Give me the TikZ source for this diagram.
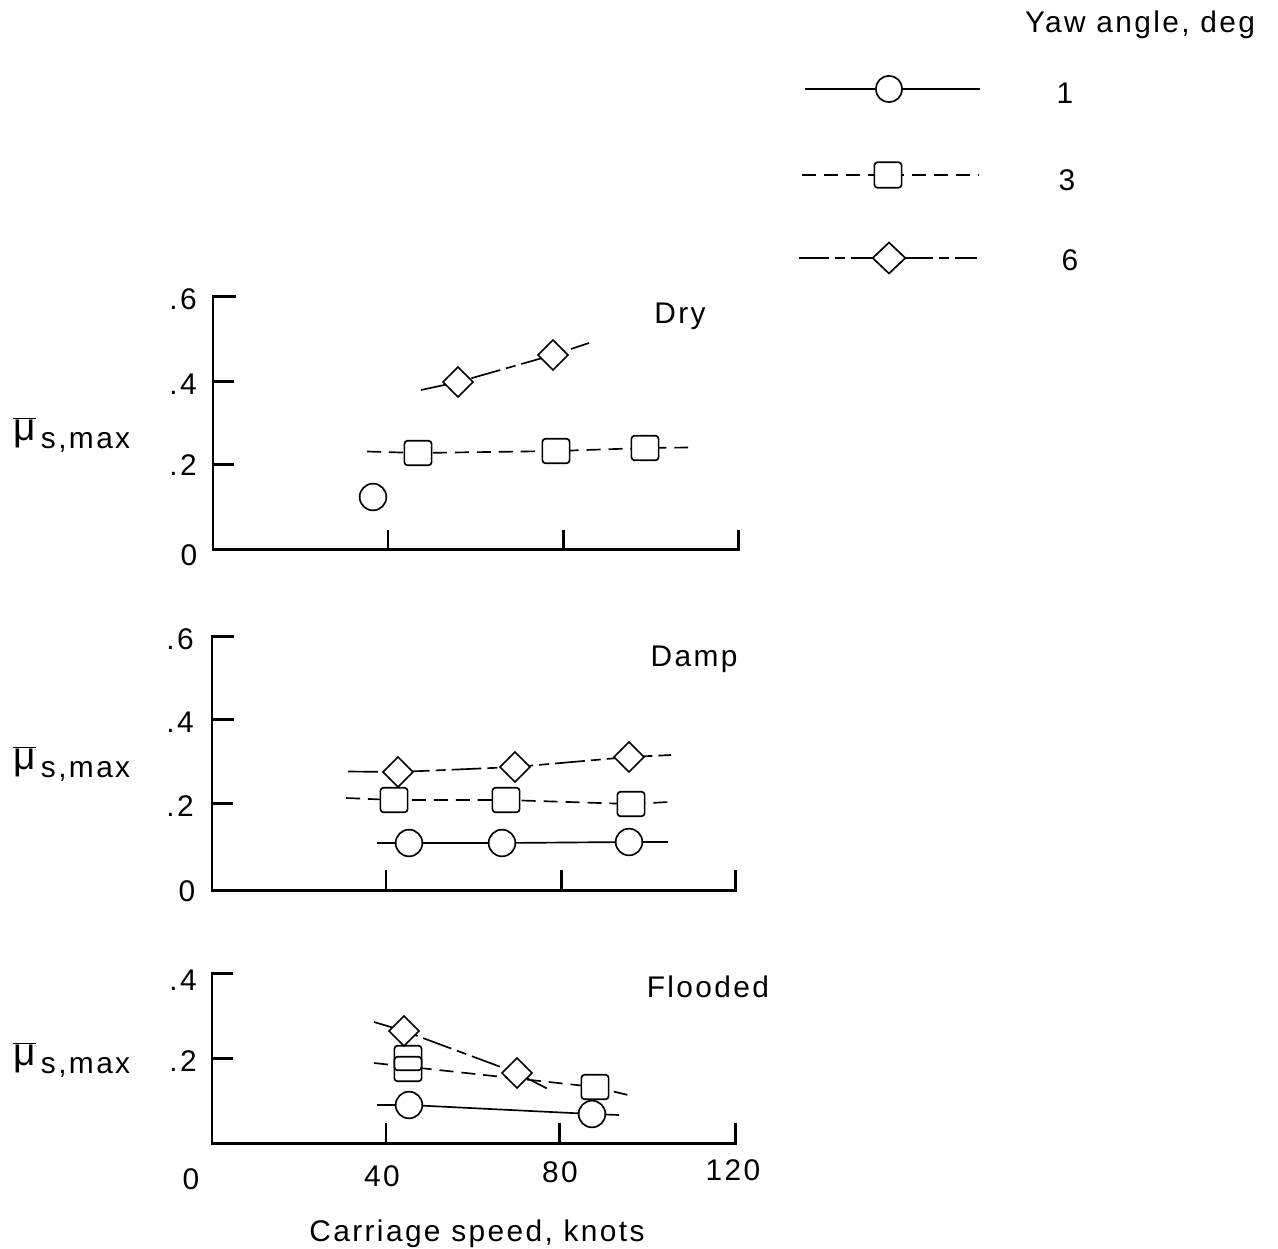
\documentclass[tikz,border=0pt]{standalone}
\usepackage{fontspec}
\setmainfont[LetterSpace=8]{Liberation Sans}
\usetikzlibrary{shapes.geometric,backgrounds}
\tikzset{
  axisline/.style={line width=1.7pt, line cap=rect},
  dataline/.style={line width=0.95pt},
  dashline/.style={dataline, dash pattern=on 8pt off 4.5pt},
  dashdotline/.style={dataline, dash pattern=on 17pt off 3.4pt on 5.7pt off 3.4pt},
  mk/.style={draw, fill=white, line width=0.95pt, inner sep=0pt},
  circmark/.style={mk, circle, minimum size=15.2pt},
  sqmark/.style={mk, rectangle, rounded corners=1.8pt, minimum width=15.5pt, minimum height=14pt},
  diamark/.style={mk, diamond, minimum width=17.5pt, minimum height=17.5pt},
  lgcirc/.style={circmark, minimum size=15pt},
  lgsq/.style={sqmark, minimum width=15.5pt, minimum height=14.5pt},
  lgdia/.style={diamark, minimum width=19pt, minimum height=18pt},
  txt/.style={inner sep=0pt, anchor=base},
  mulabel/.style={inner sep=0pt, anchor=base west}
}
\newcommand{\mylbl}{\raisebox{4pt}{$\overline{\hbox{\scalebox{1.3}{μ}}}$}\hspace{3pt}s,max}
\begin{document}
\begin{tikzpicture}[x=0.02cm, y=-0.02cm, font=\fontsize{17}{20}\selectfont]
\useasboundingbox (0,0) rectangle (1278,1248);

% ---------------- Legend ----------------
\node[txt] (lgtitle) at (1140,32) {Yaw angle, deg};
\node[lgcirc] (lg1) at (889,89) {};
\node[lgsq] (lg3) at (888,175) {};
\node[lgdia] (lg6) at (889,258) {};
\coordinate (lg1a) at (805,89);  \coordinate (lg1b) at (980,89);
\coordinate (lg3a) at (802,175); \coordinate (lg3b) at (978,175);
\coordinate (lg6a) at (799,258); \coordinate (lg6b) at (977,258);
\node[txt] (lgt1) at (1065,103) {1};
\node[txt] (lgt3) at (1067,190) {3};
\node[txt] (lgt6) at (1070,270) {6};

% ---------------- Dry panel ----------------
\coordinate (dtop) at (213,296); \coordinate (dorg) at (213,549); \coordinate (dend) at (738,549);
\draw[axisline] (dtop) -- (dorg) -- (dend);
\draw[axisline] (dtop) -- ++(22,0);
\draw[axisline] (213,381) -- ++(20,0);
\draw[axisline] (213,464) -- ++(20,0);
\draw[axisline] (388,549) -- ++(0,-18);
\draw[axisline] (563,549) -- ++(0,-18);
\draw[axisline] (dend) -- ++(0,-18);
\node[txt] (dy6) at (183,309) {.6};
\node[txt] (dy4) at (183,394) {.4};
\node[txt] (dy2) at (183,475) {.2};
\node[txt] (dy0) at (189,565) {0};
\node[txt] (dtitle) at (680,323) {Dry};
\node[mulabel] (dmu) at (13,448) {\mylbl};

\node[circmark] (dC1) at (373,497) {};
\node[sqmark] (dS1) at (418,453) {};
\node[sqmark] (dS2) at (556,451) {};
\node[sqmark] (dS3) at (645,448) {};
\coordinate (dSa) at (367,451.5); \coordinate (dSb) at (688,447.5);
\node[diamark] (dD1) at (458,382) {};
\node[diamark] (dD2) at (553,355) {};
\coordinate (dDa) at (421,390); \coordinate (dDb) at (589,343);

% ---------------- Damp panel ----------------
\coordinate (mtop) at (212,636); \coordinate (morg) at (212,890); \coordinate (mend) at (735,890);
\draw[axisline] (mtop) -- (morg) -- (mend);
\draw[axisline] (mtop) -- ++(21,0);
\draw[axisline] (212,719) -- ++(21,0);
\draw[axisline] (212,803) -- ++(20,0);
\draw[axisline] (386,890) -- ++(0,-19);
\draw[axisline] (561,890) -- ++(0,-19);
\draw[axisline] (mend) -- ++(0,-19);
\node[txt] (my6) at (180,649) {.6};
\node[txt] (my4) at (180,732) {.4};
\node[txt] (my2) at (180,816) {.2};
\node[txt] (my0) at (187,901) {0};
\node[txt] (mtitle) at (694,666) {Damp};
\node[mulabel] (mmu) at (13,777) {\mylbl};

\node[diamark] (mD1) at (398,772) {};
\node[diamark] (mD2) at (515,767) {};
\node[diamark] (mD3) at (629,757) {};
\coordinate (mDa) at (348,771.5); \coordinate (mDb) at (671,755);
\node[sqmark] (mS1) at (394,800) {};
\node[sqmark] (mS2) at (506,800) {};
\node[sqmark] (mS3) at (631,804) {};
\coordinate (mSa) at (346,798); \coordinate (mSb) at (669,802);
\node[circmark] (mC1) at (409,843) {};
\node[circmark] (mC2) at (502,843) {};
\node[circmark] (mC3) at (629,842) {};
\coordinate (mCa) at (377,843); \coordinate (mCb) at (668,842);

% ---------------- Flooded panel ----------------
\coordinate (ftop) at (212,973); \coordinate (forg) at (212,1143); \coordinate (fend) at (735,1143);
\draw[axisline] (ftop) -- (forg) -- (fend);
\draw[axisline] (ftop) -- ++(20,0);
\draw[axisline] (212,1058) -- ++(20,0);
\draw[axisline] (386,1143) -- ++(0,-19);
\draw[axisline] (559,1143) -- ++(0,-19);
\draw[axisline] (fend) -- ++(0,-19);
\node[txt] (fy4) at (183,990) {.4};
\node[txt] (fy2) at (183,1071) {.2};
\node[txt] (fx0) at (191,1189) {0};
\node[txt] (fx40) at (382,1186) {40};
\node[txt] (fx80) at (560,1182) {80};
\node[txt] (fx120) at (733,1180) {120};
\node[txt] (xtitle) at (477,1241) {Carriage speed, knots};
\node[txt] (ftitle) at (708,997) {Flooded};
\node[mulabel] (fmu) at (13,1073) {\mylbl};

\node[diamark] (fD1) at (404,1031) {};
\node[diamark] (fD2) at (517,1073) {};
\coordinate (fDa) at (374,1022); \coordinate (fDb) at (548,1089);
\node[sqmark] (fS1) at (408,1069) {};
\node[sqmark, fill=none] (fS2) at (408,1058) {};
\node[sqmark] (fS3) at (595,1087) {};
\coordinate (fSa) at (374,1063); \coordinate (fSb) at (628,1095);
\node[circmark] (fC1) at (409,1105) {};
\node[circmark] (fC2) at (592,1114) {};
\coordinate (fCa) at (377,1105); \coordinate (fCb) at (619,1115);

% ---------------- Connectors (behind markers) ----------------
\begin{scope}[on background layer]
\draw[dataline] (lg1a) -- (lg1.center) -- (lg1b);
\draw[dashline] (lg3a) -- (lg3.center) -- (lg3b);
\draw[dashdotline] (lg6a) -- (lg6.center) -- (lg6b);

\draw[dashline] (dSa) -- (dS1.center) -- (dS2.center) -- (dS3.center) -- (dSb);
\draw[dashdotline] (dDa) -- (dD1.center) -- (dD2.center) -- (dDb);

\draw[dashdotline] (mDa) -- (mD1.center) -- (mD2.center) -- (mD3.center) -- (mDb);
\draw[dashline] (mSa) -- (mS1.center) -- (mS2.center) -- (mS3.center) -- (mSb);
\draw[dataline] (mCa) -- (mC1.center) -- (mC2.center) -- (mC3.center) -- (mCb);

\draw[dashdotline] (fDa) -- (fD1.center) -- (fD2.center) -- (fDb);
\draw[dashline] (fSa) -- (fS3.center) -- (fSb);
\draw[dataline] (fCa) -- (fC1.center) -- (fC2.center) -- (fCb);
\end{scope}
\end{tikzpicture}
\end{document}
